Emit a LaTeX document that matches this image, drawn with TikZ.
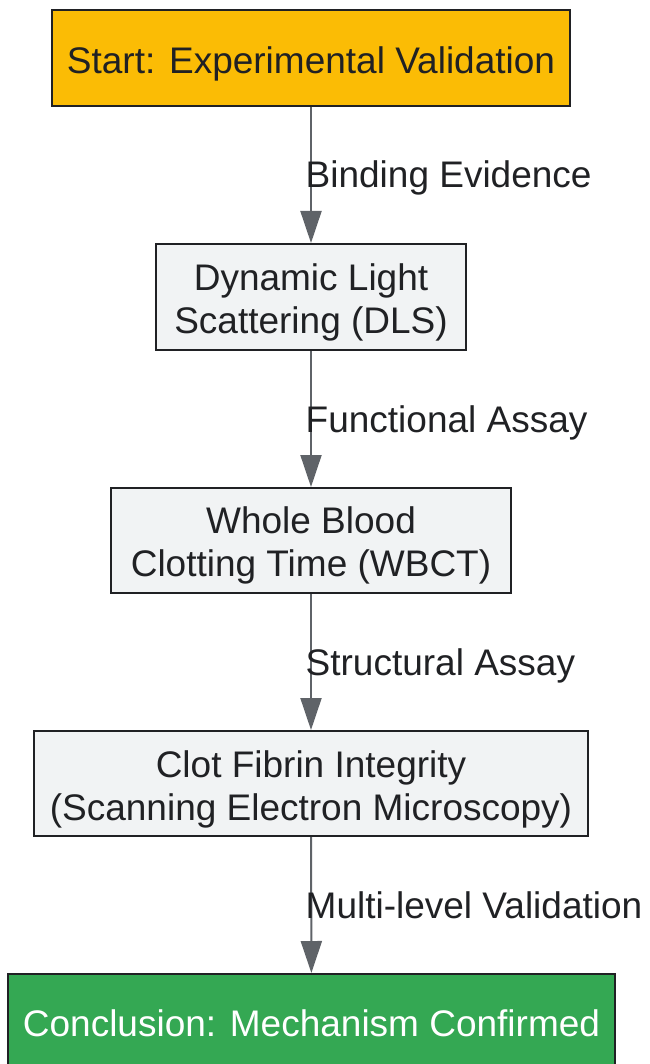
\documentclass[tikz,border=0pt]{standalone}
\usepackage{fontspec}
\setmainfont{Liberation Sans}
\usetikzlibrary{arrows.meta, positioning}
\definecolor{start_yellow}{HTML}{FBBC05}
\definecolor{end_green}{HTML}{34A853}
\definecolor{step_gray}{HTML}{F1F3F4}
\definecolor{edge_gray}{HTML}{5F6368}
\definecolor{text_dark}{HTML}{202124}

\begin{document}
\begin{tikzpicture}[x=1pt, y=-1pt, >={Triangle[length=32pt, width=21pt]},
    box/.style={rectangle, draw=text_dark, line width=2pt, inner sep=0pt},
    boxtext/.style={align=center, inner sep=0pt, text=text_dark, font=\fontsize{37}{43}\selectfont},
    lbl/.style={anchor=base west, inner sep=0pt, text=text_dark, font=\fontsize{37}{43}\selectfont},
    flow/.style={->, edge_gray, line width=2pt}]
      \useasboundingbox (0,0) rectangle (649,1064);
      \node[box, fill=start_yellow, minimum width=518pt, minimum height=96pt,
        label={[boxtext, yshift=-5.5pt]center:Start: Experimental Validation}] (start) at (311,58) {};
      \node[box, fill=step_gray, minimum width=310pt, minimum height=106pt,
        label={[boxtext, yshift=-5pt]center:Dynamic Light\\Scattering (DLS)}] (dls) at (311,297) {};
      \node[box, fill=step_gray, minimum width=400pt, minimum height=105pt,
        label={[boxtext, yshift=-5pt]center:Whole Blood\\Clotting Time (WBCT)}] (wbct) at (311,540.5) {};
      \node[box, fill=step_gray, minimum width=554pt, minimum height=105pt,
        label={[boxtext, yshift=-6pt]center:Clot Fibrin Integrity\\(Scanning Electron Microscopy)}] (sem) at (311,783.5) {};
      \node[box, fill=end_green, minimum width=607pt, minimum height=96pt,
        label={[boxtext, text=white, yshift=-1.5pt]center:Conclusion: Mechanism Confirmed}] (conclusion) at (311.5,1022) {};
      \draw[flow] (start) -- (dls);
      \draw[flow] (dls) -- (wbct);
      \draw[flow] (wbct) -- (sem);
      \draw[flow] (sem) -- (conclusion);
      \node[lbl] (l1) at (305.5,188) {Binding Evidence};
      \node[lbl] (l2) at (305.5,432) {Functional Assay};
      \node[lbl] (l3) at (305.5,675) {Structural Assay};
      \node[lbl] (l4) at (305.5,918) {Multi-level Validation};
    \end{tikzpicture}
\end{document}
